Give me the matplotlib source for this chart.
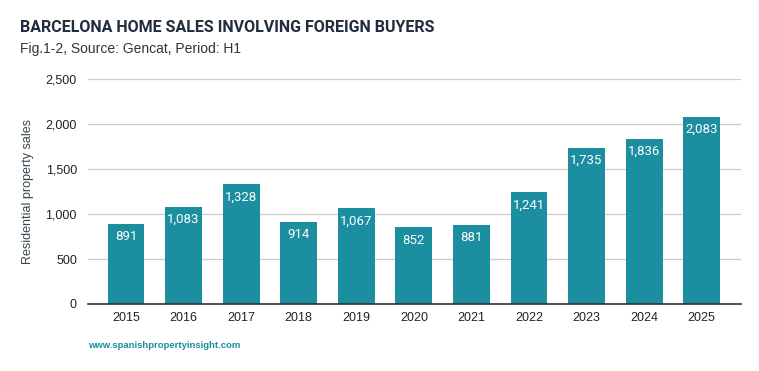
import numpy as np
import matplotlib
matplotlib.use('agg')
import matplotlib.pyplot as plt

years = ['2015', '2016', '2017', '2018', '2019', '2020', '2021', '2022', '2023', '2024', '2025']
sales = [891, 1083, 1328, 914, 1067, 852, 881, 1241, 1735, 1836, 2083]

plt.rcParams['font.family'] = ['Liberation Sans', 'DejaVu Sans']

bar_col = '#1b8e9f'
dark = '#1f2d3d'

fig = plt.figure(figsize=(7.59, 3.71), dpi=100)
ax = fig.add_axes([0.116, 0.1806, 0.86, 0.6064])

x = np.arange(len(years))
bars = ax.bar(x, sales, width=0.64, color=bar_col, zorder=3)

for xi, v in zip(x, sales):
    ax.text(xi, v - 70, f'{v:,}', ha='center', va='top', color='white', fontsize=9.5,
            family=['Roboto', 'DejaVu Sans'], zorder=4)

ax.set_xlim(-0.66, 10.68)
ax.set_ylim(0, 2500)
ax.set_yticks([0, 500, 1000, 1500, 2000, 2500])
ax.set_yticklabels([f'{t:,}' for t in [0, 500, 1000, 1500, 2000, 2500]])
ax.set_xticks(x)
ax.set_xticklabels(years)
ax.tick_params(axis='both', length=0, labelsize=9, colors='#222222')
ax.tick_params(axis='x', pad=6)
ax.tick_params(axis='y', pad=8)
ax.grid(axis='y', color='#cccccc', lw=0.9, zorder=0)
for s in ['top', 'right', 'left']:
    ax.spines[s].set_visible(False)
ax.spines['bottom'].set_color('#333333')
ax.spines['bottom'].set_linewidth(1.2)
ax.spines['bottom'].set_zorder(5)

ax.set_ylabel('Residential property sales', fontsize=9, color='#37474f', labelpad=8)

fig.text(20 / 759, 1 - 28 / 371, 'BARCELONA HOME SALES INVOLVING FOREIGN BUYERS',
         fontsize=11.5, fontweight='bold', color=dark, va='center', ha='left',
         family=['Roboto', 'DejaVu Sans'])
fig.text(20 / 759, 1 - 49 / 371, 'Fig.1-2, Source: Gencat, Period: H1',
         fontsize=10, color='#333333', va='center', ha='left')
fig.text(88 / 759, 1 - 346 / 371, 'www.spanishpropertyinsight.com',
         fontsize=6.8, fontweight='bold', color=bar_col, va='center', ha='left')

plt.savefig('out.png', dpi=100)
